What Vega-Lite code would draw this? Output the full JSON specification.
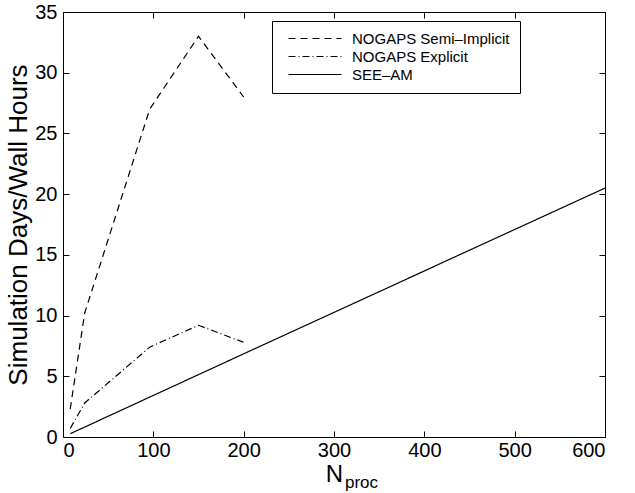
{
  "$schema": "https://vega.github.io/schema/vega-lite/v6.json",
  "width": 542,
  "height": 425,
  "autosize": "none",
  "padding": {"left": 63, "top": 12, "right": 30, "bottom": 56},
  "background": "white",
  "config": {
    "view": {"stroke": "black", "strokeWidth": 1},
    "font": "Liberation Sans",
    "axis": {
      "grid": false,
      "domain": false,
      "ticks": true,
      "tickColor": "black",
      "tickWidth": 1,
      "tickOpacity": 1,
      "labelColor": "black",
      "titleColor": "black",
      "labelFont": "Liberation Sans",
      "titleFont": "Liberation Sans",
      "labelFontSize": 20,
      "titleFontSize": 24,
      "titleFontWeight": "normal",
      "tickSize": 6,
      "offset": -6,
      "zindex": 1
    }
  },
  "datasets": {
    "series": [
      {"model": "NOGAPS Semi\u2013Implicit", "nproc": 8, "rate": 2.3},
      {"model": "NOGAPS Semi\u2013Implicit", "nproc": 24, "rate": 10.2},
      {"model": "NOGAPS Semi\u2013Implicit", "nproc": 96, "rate": 27.0},
      {"model": "NOGAPS Semi\u2013Implicit", "nproc": 150, "rate": 33.0},
      {"model": "NOGAPS Semi\u2013Implicit", "nproc": 200, "rate": 28.0},
      {"model": "NOGAPS Explicit", "nproc": 8, "rate": 0.7},
      {"model": "NOGAPS Explicit", "nproc": 24, "rate": 2.8},
      {"model": "NOGAPS Explicit", "nproc": 96, "rate": 7.4},
      {"model": "NOGAPS Explicit", "nproc": 150, "rate": 9.2},
      {"model": "NOGAPS Explicit", "nproc": 200, "rate": 7.8},
      {"model": "SEE\u2013AM", "nproc": 8, "rate": 0.27},
      {"model": "SEE\u2013AM", "nproc": 200, "rate": 6.85},
      {"model": "SEE\u2013AM", "nproc": 600, "rate": 20.5}
    ],
    "label": [{"nproc": 300, "rate": 0, "txt": "proc"}]
  },
  "layer": [
    {
      "data": {"name": "series"},
      "mark": {"type": "line", "color": "black", "strokeWidth": 1.2, "clip": true},
      "encoding": {
        "x": {
          "field": "nproc", "type": "quantitative",
          "scale": {"domain": [0, 600], "nice": false},
          "axis": {"values": [0, 100, 200, 300, 400, 500, 600], "title": "N", "titlePadding": 2, "labelPadding": 3, "orient": "bottom"}
        },
        "y": {
          "field": "rate", "type": "quantitative",
          "scale": {"domain": [0, 35], "nice": false},
          "axis": {"values": [0, 5, 10, 15, 20, 25, 30, 35], "title": "Simulation Days/Wall Hours", "titleFontSize": 26, "titlePadding": 3, "labelPadding": 6, "orient": "left"}
        },
        "strokeDash": {
          "field": "model", "type": "nominal",
          "scale": {
            "domain": ["NOGAPS Semi\u2013Implicit", "NOGAPS Explicit", "SEE\u2013AM"],
            "range": [[7, 5], [7, 3, 1, 3], [1, 0]]
          },
          "legend": {
            "title": null,
            "orient": "none",
            "legendX": 209,
            "legendY": 9,
            "strokeColor": "black",
            "fillColor": "white",
            "padding": 10,
            "symbolType": "M-5.3,0H5.3",
            "symbolSize": 100,
            "symbolOffset": 25.5,
            "labelOffset": 29.5,
            "symbolStrokeWidth": 1.2,
            "symbolStrokeColor": "black",
            "labelFont": "Liberation Sans",
            "labelFontSize": 15,
            "labelColor": "black",
            "labelLimit": 400,
            "rowPadding": 2
          }
        }
      }
    },
    {
      "data": {"name": "label"},
      "mark": {"type": "text", "align": "left", "baseline": "alphabetic", "dx": 11, "dy": 51, "fontSize": 17, "font": "Liberation Sans", "color": "black"},
      "encoding": {
        "x": {"field": "nproc", "type": "quantitative", "scale": {"domain": [0, 600], "nice": false},
          "axis": {"orient": "top", "values": [0, 100, 200, 300, 400, 500, 600], "labels": false, "title": null}},
        "y": {"field": "rate", "type": "quantitative", "scale": {"domain": [0, 35], "nice": false},
          "axis": {"orient": "right", "values": [0, 5, 10, 15, 20, 25, 30, 35], "labels": false, "title": null}},
        "text": {"field": "txt"}
      }
    }
  ],
  "resolve": {"axis": {"x": "independent", "y": "independent"}}
}
